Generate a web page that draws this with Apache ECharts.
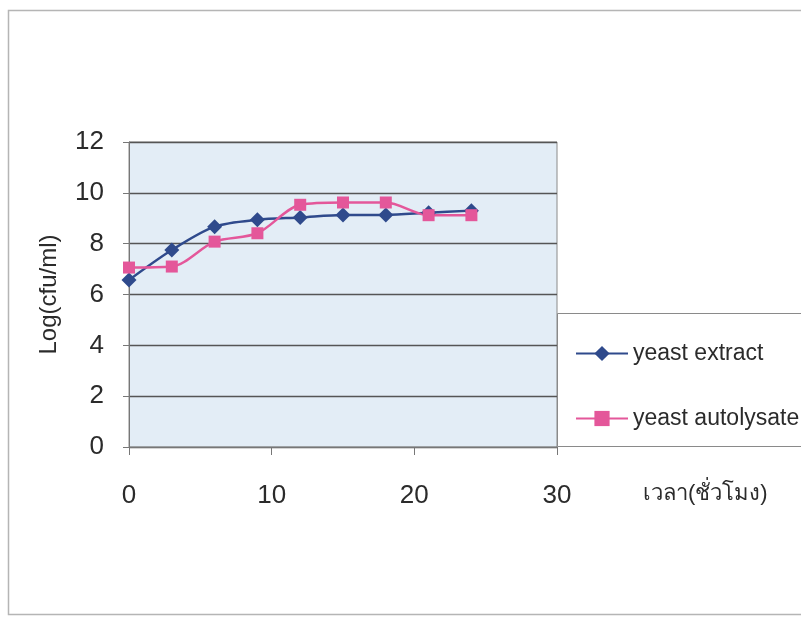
<!DOCTYPE html>
<html>
<head>
<meta charset="utf-8">
<script src="https://cdn.jsdelivr.net/npm/echarts@6/dist/echarts.min.js"></script>
<style>
  html, body { margin: 0; padding: 0; background: #fff; }
  #chart { width: 801px; height: 617px; }
</style>
</head>
<body>
<div id="chart"></div>
<script>
// เวลา (ชั่วโมง)
var hours = [0, 3, 6, 9, 12, 15, 18, 21, 24]
// Log(cfu/ml)
var yeastExtract = [6.57, 7.75, 8.67, 8.94, 9.03, 9.13, 9.13, 9.22, 9.3]
var yeastAutolysate = [7.06, 7.1, 8.08, 8.41, 9.53, 9.62, 9.62, 9.12, 9.12]
var seriesNames = ['yeast extract', 'yeast autolysate']

var blue = '#2f4a8c'
var pink = '#e4579a'
var textColor = '#2b2b2b'

function pairs(xs, ys) {
  return xs.map(function (x, i) { return [x, ys[i]] })
}

var chart = echarts.init(document.getElementById('chart'))

var option = {
  backgroundColor: '#fff',
  animation: false,
  textStyle: { fontFamily: 'Liberation Sans, Arial, sans-serif' },
  grid: {
    left: 129, top: 142, width: 428, height: 305,
    show: true, backgroundColor: '#e3edf6', borderColor: '#8a8a8a', borderWidth: 1
  },
  xAxis: {
    type: 'value', min: 0, max: 30, interval: 10,
    name: 'เวลา(ชั่วโมง)',
    nameLocation: 'end', nameGap: 86,
    nameTextStyle: { fontSize: 22, color: textColor, align: 'left', verticalAlign: 'top', padding: [36, 0, 0, 0] },
    axisLine: { show: true, lineStyle: { color: '#777' } },
    axisTick: { show: true, inside: false, length: 8, lineStyle: { color: '#777' } },
    axisLabel: { fontSize: 26, color: textColor, margin: 36 },
    splitLine: { show: false }
  },
  yAxis: {
    type: 'value', min: 0, max: 12, interval: 2,
    name: 'Log(cfu/ml)',
    nameLocation: 'middle', nameGap: 68,
    nameTextStyle: { fontSize: 24, color: textColor },
    axisLine: { show: true, lineStyle: { color: '#777' } },
    axisTick: { show: true, length: 6, lineStyle: { color: '#777' } },
    axisLabel: { fontSize: 26, color: textColor, margin: 25 },
    splitLine: { show: true, lineStyle: { color: '#555', width: 1.3 } }
  },
  legend: {
    orient: 'vertical', left: 570, top: 337,
    itemWidth: 52, itemHeight: 19, itemGap: 42,
    textStyle: { fontSize: 23, color: textColor },
    data: seriesNames
  },
  graphic: [
    {
      type: 'rect', left: 6, top: 8, z: -10,
      shape: { width: 810, height: 604 },
      style: { fill: 'none', stroke: '#b5b5b5', lineWidth: 1.5 }
    },
    {
      type: 'rect', left: 557, top: 313, z: -5,
      shape: { width: 260, height: 133 },
      style: { fill: '#fff', stroke: '#8a8a8a', lineWidth: 1 }
    }
  ],
  series: [
    {
      name: seriesNames[0], type: 'line', smooth: 0.3,
      data: pairs(hours, yeastExtract),
      symbol: 'diamond', symbolSize: 15,
      lineStyle: { color: blue, width: 2.5 },
      itemStyle: { color: blue }
    },
    {
      name: seriesNames[1], type: 'line', smooth: 0.3,
      data: pairs(hours, yeastAutolysate),
      symbol: 'rect', symbolSize: 12,
      lineStyle: { color: pink, width: 2.5 },
      itemStyle: { color: pink }
    }
  ]
}

chart.setOption(option)
</script>
</body>
</html>
